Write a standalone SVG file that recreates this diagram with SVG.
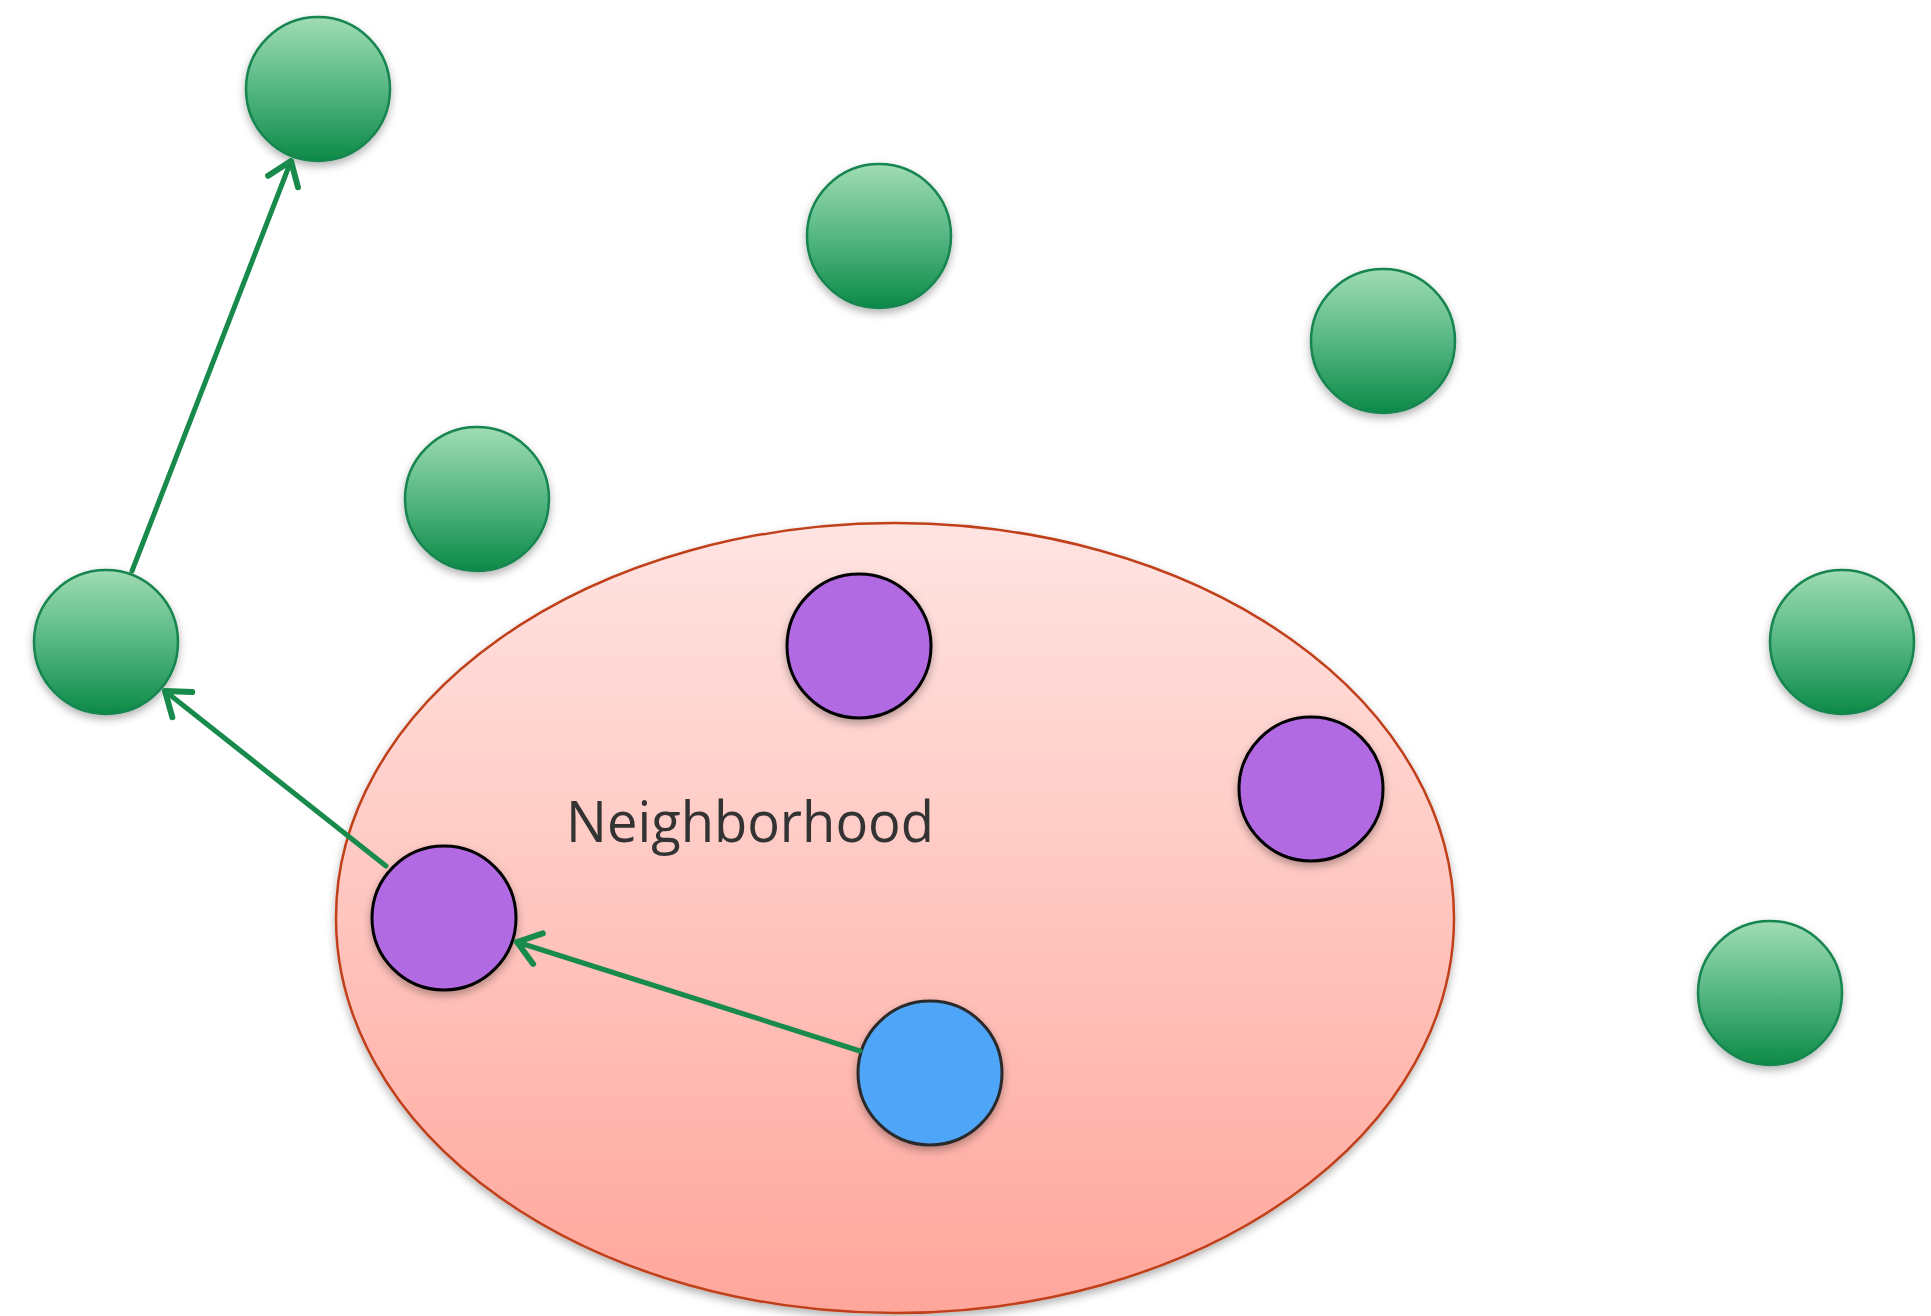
<svg xmlns="http://www.w3.org/2000/svg" width="1931" height="1316" viewBox="0 0 1931 1316">
  <defs>
    <linearGradient id="gGreen" x1="0" y1="0" x2="0" y2="1">
      <stop offset="0" stop-color="#a0dcb4"/>
      <stop offset="0.5" stop-color="#55b783"/>
      <stop offset="1" stop-color="#0c8a47"/>
    </linearGradient>
    <linearGradient id="gHood" x1="0" y1="0" x2="0" y2="1">
      <stop offset="0" stop-color="#ffe4e2"/>
      <stop offset="1" stop-color="#ffa69b"/>
    </linearGradient>
    <filter id="shadow" x="-20%" y="-20%" width="140%" height="150%">
      <feDropShadow dx="0" dy="4" stdDeviation="4" flood-color="#000" flood-opacity="0.3"/>
    </filter>
    <marker id="openArrow" viewBox="0 0 32 42" refX="27" refY="21" markerWidth="32" markerHeight="42" markerUnits="userSpaceOnUse" orient="auto">
      <path d="M 5 5 L 27 21 L 5 37" fill="none" stroke="#178a4c" stroke-width="6" stroke-linecap="round" stroke-linejoin="round"/>
    </marker>
  </defs>
  <style>
    .green { fill: url(#gGreen); stroke: #178550; stroke-width: 2.5; filter: url(#shadow); }
    .purple { fill: #b16ae2; stroke: #000; stroke-width: 3; filter: url(#shadow); }
    .blue { fill: #50a5f8; stroke: #2b2b2b; stroke-width: 3; filter: url(#shadow); }
    .hood { fill: url(#gHood); stroke: #c0401a; stroke-width: 2.5; filter: url(#shadow); }
    .edge { fill: none; stroke: #178a4c; stroke-width: 5; stroke-linecap: round; marker-end: url(#openArrow); }
    .label { font-family: "Open Sans", "Liberation Sans", sans-serif; font-size: 57px; fill: #333333; }
  </style>

  <rect width="1931" height="1316" fill="#ffffff"/>

  <!-- neighborhood region -->
  <g id="neighborhood">
    <ellipse class="hood" cx="895" cy="918" rx="559" ry="395"/>
    <text class="label" x="566" y="842" textLength="368" lengthAdjust="spacingAndGlyphs">Neighborhood</text>
  </g>

  <!-- outer nodes -->
  <g id="g1"><circle class="green" cx="318" cy="89" r="72"/></g>
  <g id="g2"><circle class="green" cx="879" cy="236" r="72"/></g>
  <g id="g3"><circle class="green" cx="1383" cy="341" r="72"/></g>
  <g id="g4"><circle class="green" cx="477" cy="499" r="72"/></g>
  <g id="g5"><circle class="green" cx="106" cy="642" r="72"/></g>
  <g id="g6"><circle class="green" cx="1842" cy="642" r="72"/></g>
  <g id="g7"><circle class="green" cx="1770" cy="993" r="72"/></g>

  <!-- neighbours -->
  <g id="p1"><circle class="purple" cx="859" cy="646" r="72"/></g>
  <g id="p2"><circle class="purple" cx="1311" cy="789" r="72"/></g>
  <g id="p3"><circle class="purple" cx="444" cy="918" r="72"/></g>

  <!-- current node -->
  <g id="current"><circle class="blue" cx="930" cy="1073" r="72"/></g>

  <!-- path of moves -->
  <g id="connectors">
    <line class="edge" x1="860" y1="1051" x2="517" y2="942"/>
    <line class="edge" x1="386" y1="866" x2="165" y2="691"/>
    <line class="edge" x1="132" y1="571" x2="291" y2="161"/>
  </g>
</svg>
